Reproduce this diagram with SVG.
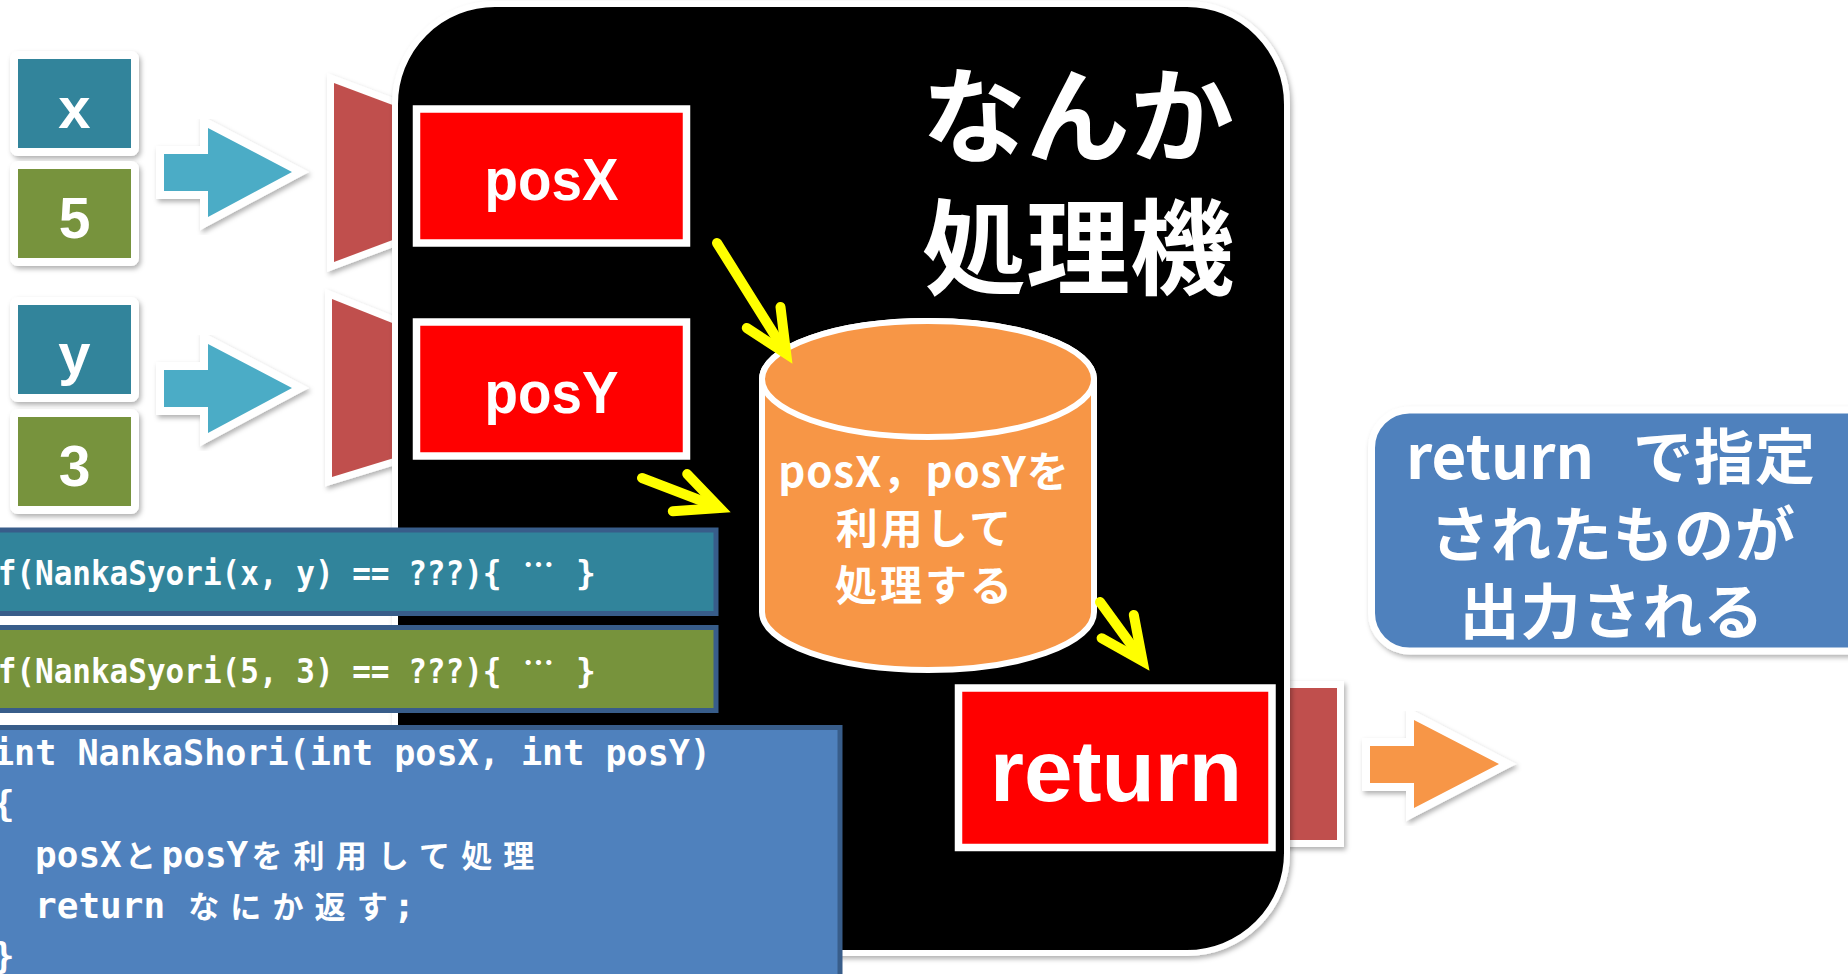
<svg xmlns="http://www.w3.org/2000/svg" width="1848" height="974" viewBox="0 0 1848 974">
<defs>
<style>
.lbl{font-family:"Liberation Sans",Arial,sans-serif;font-weight:bold;fill:#fff}
.jp{font-family:"Noto Sans CJK JP","Noto Sans CJK SC",sans-serif;font-weight:bold;fill:#fff}
.code{font-family:"DejaVu Sans Mono","Noto Sans CJK JP",monospace;font-weight:bold;fill:#fff}
.cj{font-family:"Noto Sans CJK JP","Noto Sans CJK SC",sans-serif;font-weight:bold}
.ol{paint-order:stroke;stroke:#fff;stroke-linejoin:miter}
.yel{fill:none;stroke:#FFFF00;stroke-width:10;stroke-linecap:round;stroke-linejoin:miter;stroke-miterlimit:10}
.codebox{stroke:#385D8A;stroke-width:5}
.redbox{fill:#FF0000;stroke:#fff;stroke-width:7.5}
</style>
<filter id="sh" x="-10%" y="-10%" width="130%" height="130%">
<feDropShadow dx="2" dy="3" stdDeviation="2.5" flood-color="#000" flood-opacity="0.3"/>
</filter>
</defs>
<rect width="1848" height="974" fill="#fff"/>

<g id="trapX"><polygon class="ol" points="334,83 430,119 430,226 334,262" fill="#C0504D" stroke-width="14" filter="url(#sh)"/></g>
<g id="trapY"><polygon class="ol" points="332,299 430,338 430,447 332,477" fill="#C0504D" stroke-width="14" filter="url(#sh)"/></g>
<g id="outbar"><rect class="ol" x="1250" y="688" width="87" height="152" fill="#C0504D" stroke-width="14" filter="url(#sh)"/></g>

<g id="machine">
<rect x="395" y="4" width="892" height="949" rx="100" ry="100" fill="#000" stroke="#fff" stroke-width="6" filter="url(#sh)"/>
<text class="jp" x="1078" y="155" font-size="104" text-anchor="middle">なんか</text>
<text class="jp" x="1078" y="287" font-size="104" text-anchor="middle">処理機</text>
</g>

<g id="posX">
<rect class="redbox" x="416.5" y="109" width="270" height="134"/>
<text class="lbl" x="551.5" y="200" font-size="60" text-anchor="middle" textLength="134" lengthAdjust="spacingAndGlyphs">posX</text>
</g>
<g id="posY">
<rect class="redbox" x="416.5" y="322" width="270" height="134"/>
<text class="lbl" x="551.5" y="413" font-size="60" text-anchor="middle" textLength="134" lengthAdjust="spacingAndGlyphs">posY</text>
</g>

<g id="proc">
<path d="M762,379 L762,612 A166,58 0 0 0 1094,612 L1094,379 A166,58 0 0 0 762,379 Z" fill="#F79646" stroke="#fff" stroke-width="6"/>
<ellipse cx="928" cy="379" rx="166" ry="58" fill="#F79646" stroke="#fff" stroke-width="6"/>
<text class="jp" x="924" y="487" font-size="42" letter-spacing="1" text-anchor="middle">posX，posYを</text>
<text class="jp" x="925" y="544" font-size="42" letter-spacing="3" text-anchor="middle">利用して</text>
<text class="jp" x="925" y="601" font-size="42" letter-spacing="3" text-anchor="middle">処理する</text>
</g>

<g id="ret">
<rect class="redbox" x="958.5" y="688" width="313.5" height="159.5" stroke-width="8"/>
<text class="lbl" x="1116" y="801" font-size="88" text-anchor="middle" textLength="252" lengthAdjust="spacingAndGlyphs">return</text>
</g>

<g id="in-x">
<rect x="14" y="55" width="121" height="97" rx="4" fill="#31849B" stroke="#fff" stroke-width="8" filter="url(#sh)"/>
<text class="lbl" x="74.5" y="128" font-size="58" text-anchor="middle">x</text>
</g>
<g id="in-5">
<rect x="14" y="165" width="121" height="97" rx="4" fill="#77933C" stroke="#fff" stroke-width="8" filter="url(#sh)"/>
<text class="lbl" x="74.5" y="238" font-size="57" text-anchor="middle">5</text>
</g>
<g id="in-y">
<rect x="14" y="301" width="121" height="97" rx="4" fill="#31849B" stroke="#fff" stroke-width="8" filter="url(#sh)"/>
<text class="lbl" x="74.5" y="374" font-size="58" text-anchor="middle">y</text>
</g>
<g id="in-3">
<rect x="14" y="413" width="121" height="97" rx="4" fill="#77933C" stroke="#fff" stroke-width="8" filter="url(#sh)"/>
<text class="lbl" x="74.5" y="486" font-size="57" text-anchor="middle">3</text>
</g>

<g id="connectors">
<polygon class="ol" points="164,154 208,154 208,128 292,172 208,217 208,191 164,191" fill="#4BACC6" stroke-width="16" filter="url(#sh)"/>
<polygon class="ol" points="164,370 208,370 208,344 292,388 208,433 208,407 164,407" fill="#4BACC6" stroke-width="16" filter="url(#sh)"/>
<polygon class="ol" points="1370,746 1414,746 1414,720 1499,764 1414,808 1414,783 1370,783" fill="#F79646" stroke-width="16" filter="url(#sh)"/>
<line class="yel" x1="717" y1="243" x2="784" y2="350"/>
<polyline class="yel" points="780.5,307 786.2,353.7 746.8,328"/>
<line class="yel" x1="642" y1="478" x2="715" y2="506"/>
<polyline class="yel" points="687.2,474.1 719.7,508 672.8,511.2"/>
<line class="yel" x1="1100" y1="602" x2="1140" y2="657"/>
<polyline class="yel" points="1133.8,614.9 1142.6,661.1 1101.6,638.2"/>
</g>

<g id="code1">
<rect class="codebox" x="-10" y="530" width="726" height="83.5" fill="#31849B"/>
<text class="code" x="-21" y="585" font-size="33" textLength="522.5" lengthAdjust="spacingAndGlyphs">if(NankaSyori(x, y) == ???){</text>
<text class="code cj" x="523" y="576" font-size="31">…</text>
<text class="code" x="576" y="585" font-size="33">}</text>
</g>
<g id="code2">
<rect class="codebox" x="-10" y="627.5" width="726" height="83" fill="#77933C"/>
<text class="code" x="-21" y="683" font-size="33" textLength="522.5" lengthAdjust="spacingAndGlyphs">if(NankaSyori(5, 3) == ???){</text>
<text class="code cj" x="523" y="674" font-size="31">…</text>
<text class="code" x="576" y="683" font-size="33">}</text>
</g>
<g id="code3">
<rect class="codebox" x="-10" y="727.5" width="850" height="260" fill="#4F81BD"/>
<text class="code" x="-7" y="765" font-size="36" textLength="718" lengthAdjust="spacingAndGlyphs">int NankaShori(int posX, int posY)</text>
<text class="code" x="-7" y="816" font-size="36">{</text>
<text class="code" y="867" font-size="36"><tspan x="35.1">posX</tspan><tspan class="cj" x="125" font-size="31">と</tspan><tspan x="161.6">posY</tspan><tspan class="cj" x="251.4" font-size="31" letter-spacing="11.14">を利用して処理</tspan></text>
<text class="code" y="918" font-size="36"><tspan x="35.1">return</tspan><tspan class="cj" x="188.2" font-size="31" letter-spacing="11.14">なにか返す</tspan><tspan x="393.3">;</tspan></text>
<text class="code" x="-7" y="968" font-size="36">}</text>
</g>

<g id="note">
<rect x="1371.5" y="410" width="560" height="241" rx="38" ry="38" fill="#4F81BD" stroke="#fff" stroke-width="7" filter="url(#sh)"/>
<text class="jp" x="1406" y="479" font-size="60" textLength="188" lengthAdjust="spacingAndGlyphs">return</text>
<text class="jp" x="1633" y="479" font-size="60" letter-spacing="1">で指定</text>
<text class="jp" x="1613" y="557" font-size="60" letter-spacing="1" text-anchor="middle">されたものが</text>
<text class="jp" x="1612" y="634" font-size="60" letter-spacing="1" text-anchor="middle">出力される</text>
</g>
</svg>
